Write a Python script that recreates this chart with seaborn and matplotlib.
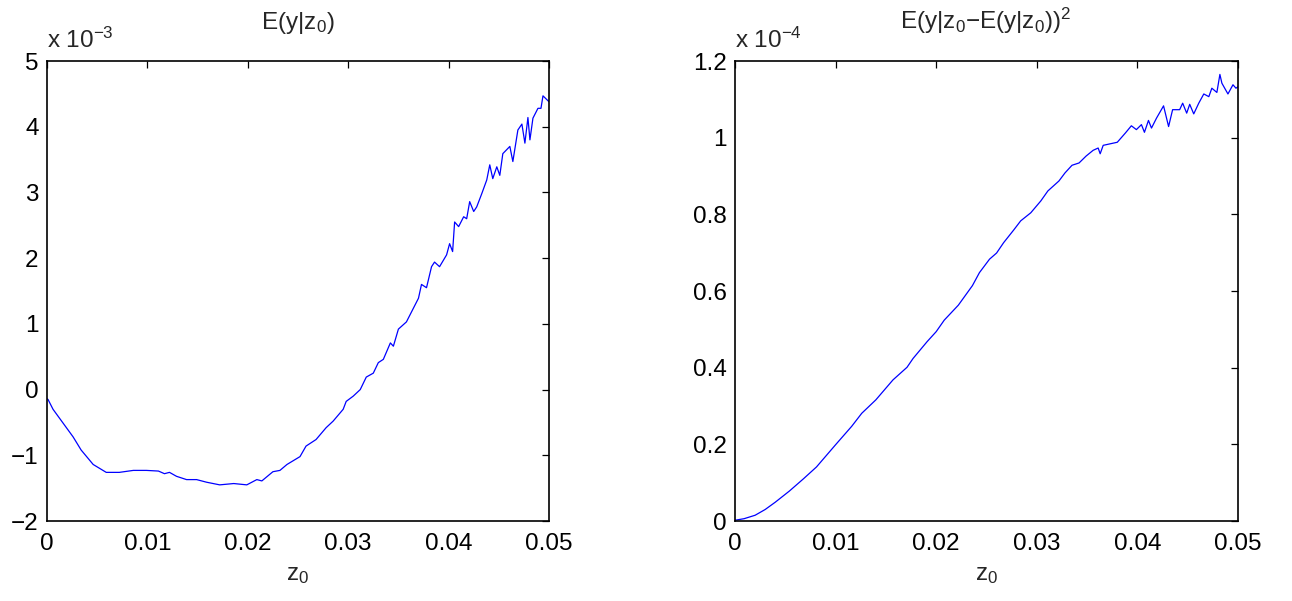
import matplotlib
matplotlib.use("Agg")
import matplotlib.pyplot as plt
import seaborn as sns
import pandas as pd

# ---------------- data ----------------
left_z = [0.0000, 0.0001, 0.0006, 0.0016, 0.0026, 0.0034, 0.0046, 0.0059, 0.0072, 0.0086,
          0.0099, 0.0111, 0.0117, 0.0122, 0.0129, 0.0139, 0.0149, 0.0159, 0.0172, 0.0186,
          0.0199, 0.0209, 0.0214, 0.0225, 0.0232, 0.0239, 0.0252, 0.0258, 0.0268, 0.0278,
          0.0285, 0.0295, 0.0298, 0.0305, 0.0312, 0.0318, 0.0325, 0.0330, 0.0335, 0.0342,
          0.0345, 0.0350, 0.0358, 0.0365, 0.0370, 0.0373, 0.0378, 0.0383, 0.0386, 0.0391,
          0.0398, 0.0401, 0.0404, 0.0406, 0.0410, 0.0415, 0.0418, 0.0421, 0.0425, 0.0428,
          0.0433, 0.0438, 0.0441, 0.0444, 0.0448, 0.0451, 0.0454, 0.0461, 0.0464, 0.0469,
          0.0473, 0.0476, 0.0479, 0.0481, 0.0484, 0.0489, 0.0492, 0.0494, 0.0500]
# E(y|z0) in units of 1e-3
left_v = [-0.14, -0.15, -0.30, -0.51, -0.72, -0.92, -1.14, -1.26, -1.26, -1.23,
          -1.23, -1.24, -1.28, -1.26, -1.32, -1.37, -1.37, -1.41, -1.45, -1.43,
          -1.45, -1.37, -1.39, -1.25, -1.23, -1.14, -1.02, -0.86, -0.76, -0.58,
          -0.48, -0.30, -0.18, -0.10, 0.00, 0.19, 0.25, 0.41, 0.46, 0.71,
          0.66, 0.92, 1.03, 1.24, 1.39, 1.60, 1.55, 1.87, 1.94, 1.87,
          2.05, 2.22, 2.10, 2.55, 2.48, 2.63, 2.60, 2.86, 2.71, 2.78,
          2.98, 3.19, 3.42, 3.21, 3.39, 3.26, 3.59, 3.70, 3.47, 3.95,
          4.04, 3.75, 4.14, 3.80, 4.13, 4.28, 4.28, 4.47, 4.38]

right_z = [0.0000, 0.0009, 0.0020, 0.0030, 0.0040, 0.0054, 0.0068, 0.0081, 0.0100, 0.0116,
           0.0126, 0.0140, 0.0157, 0.0171, 0.0177, 0.0191, 0.0200, 0.0208, 0.0222, 0.0236,
           0.0243, 0.0253, 0.0260, 0.0267, 0.0277, 0.0284, 0.0294, 0.0304, 0.0311, 0.0322,
           0.0328, 0.0335, 0.0342, 0.0349, 0.0356, 0.0361, 0.0363, 0.0366, 0.0373, 0.0380,
           0.0383, 0.0388, 0.0394, 0.0399, 0.0404, 0.0407, 0.0411, 0.0414, 0.0419, 0.0426,
           0.0431, 0.0435, 0.0442, 0.0445, 0.0449, 0.0452, 0.0456, 0.0461, 0.0466, 0.0471,
           0.0474, 0.0479, 0.0482, 0.0484, 0.0490, 0.0495, 0.0498, 0.0500]
# E(y|z0-E(y|z0))^2 in units of 1e-4
right_v = [0.002, 0.006, 0.015, 0.030, 0.049, 0.078, 0.110, 0.141, 0.199, 0.247,
           0.281, 0.316, 0.368, 0.401, 0.424, 0.468, 0.494, 0.524, 0.563, 0.614,
           0.648, 0.683, 0.699, 0.726, 0.759, 0.783, 0.804, 0.835, 0.861, 0.887,
           0.908, 0.928, 0.934, 0.952, 0.967, 0.973, 0.958, 0.980, 0.984, 0.988,
           0.997, 1.012, 1.031, 1.021, 1.034, 1.014, 1.045, 1.025, 1.051, 1.083,
           1.029, 1.073, 1.073, 1.090, 1.064, 1.087, 1.062, 1.090, 1.114, 1.107,
           1.129, 1.118, 1.165, 1.142, 1.114, 1.138, 1.129, 1.133]

x_ticks = [0, 0.01, 0.02, 0.03, 0.04, 0.05]
x_ticklabels = ["0", "0.01", "0.02", "0.03", "0.04", "0.05"]
left_yticks = [-2, -1, 0, 1, 2, 3, 4, 5]
left_yticklabels = ["\u22122", "\u22121", "0", "1", "2", "3", "4", "5"]
right_yticks = [0, 0.2, 0.4, 0.6, 0.8, 1.0, 1.2]
right_yticklabels = ["0", "0.2", "0.4", "0.6", "0.8", "1", "1.2"]

# ---------------- style ----------------
sns.set_style("white")
FONT = "Liberation Sans"
plt.rcParams["font.family"] = [FONT, "DejaVu Sans"]
plt.rcParams["mathtext.fontset"] = "custom"
plt.rcParams["mathtext.rm"] = FONT
plt.rcParams["mathtext.it"] = FONT
plt.rcParams["mathtext.bf"] = FONT
plt.rcParams["mathtext.sf"] = FONT
plt.rcParams["axes.unicode_minus"] = True
FS = 17.5

fig = plt.figure(figsize=(12.92, 6.01), dpi=100)
W, H = 1292, 601
ax1 = fig.add_axes([47 / W, (H - 521) / H, 502 / W, 460 / H])
ax2 = fig.add_axes([735 / W, (H - 521) / H, 503 / W, 460 / H])

df_l = pd.DataFrame({"z0": left_z, "val": left_v})
df_r = pd.DataFrame({"z0": right_z, "val": right_v})

sns.lineplot(data=df_l, x="z0", y="val", ax=ax1, color="#0000ff", linewidth=0.9,
             estimator=None, sort=False)
sns.lineplot(data=df_r, x="z0", y="val", ax=ax2, color="#0000ff", linewidth=0.9,
             estimator=None, sort=False)

for ax, yt, ytl, ylim in [(ax1, left_yticks, left_yticklabels, (-2, 5)),
                          (ax2, right_yticks, right_yticklabels, (0, 1.2))]:
    ax.set_xlim(0, 0.05)
    ax.set_ylim(*ylim)
    ax.set_xticks(x_ticks)
    ax.set_xticklabels(x_ticklabels)
    ax.set_yticks(yt)
    ax.set_yticklabels(ytl)
    ax.tick_params(direction="in", length=5, width=0.9, top=True, right=True,
                   labelsize=FS, colors="black", pad=6)
    ax.tick_params(axis="x", pad=9)
    for s in ax.spines.values():
        s.set_visible(True)
        s.set_color("black")
        s.set_linewidth(1.2)
    ax.set_xlabel(r"z$_\mathregular{0}$", fontsize=FS, labelpad=6)
    ax.set_ylabel("")

# titles and exponent labels
fig.text(298 / W, 1 - 29 / H, r"E(y|z$_\mathregular{0}$)", ha="center", va="baseline",
         fontsize=FS)
fig.text(986 / W, 1 - 29 / H,
         r"E(y|z$_\mathregular{0}$$-$E(y|z$_\mathregular{0}$))$^\mathregular{2}$",
         ha="center", va="baseline", fontsize=FS)
fig.text(47 / W, 1 - 48 / H, r"x 10$^{-3}$", ha="left", va="baseline", fontsize=FS)
fig.text(735 / W, 1 - 48 / H, r"x 10$^{-4}$", ha="left", va="baseline", fontsize=FS)

fig.savefig("out.png", dpi=100, facecolor="white")
